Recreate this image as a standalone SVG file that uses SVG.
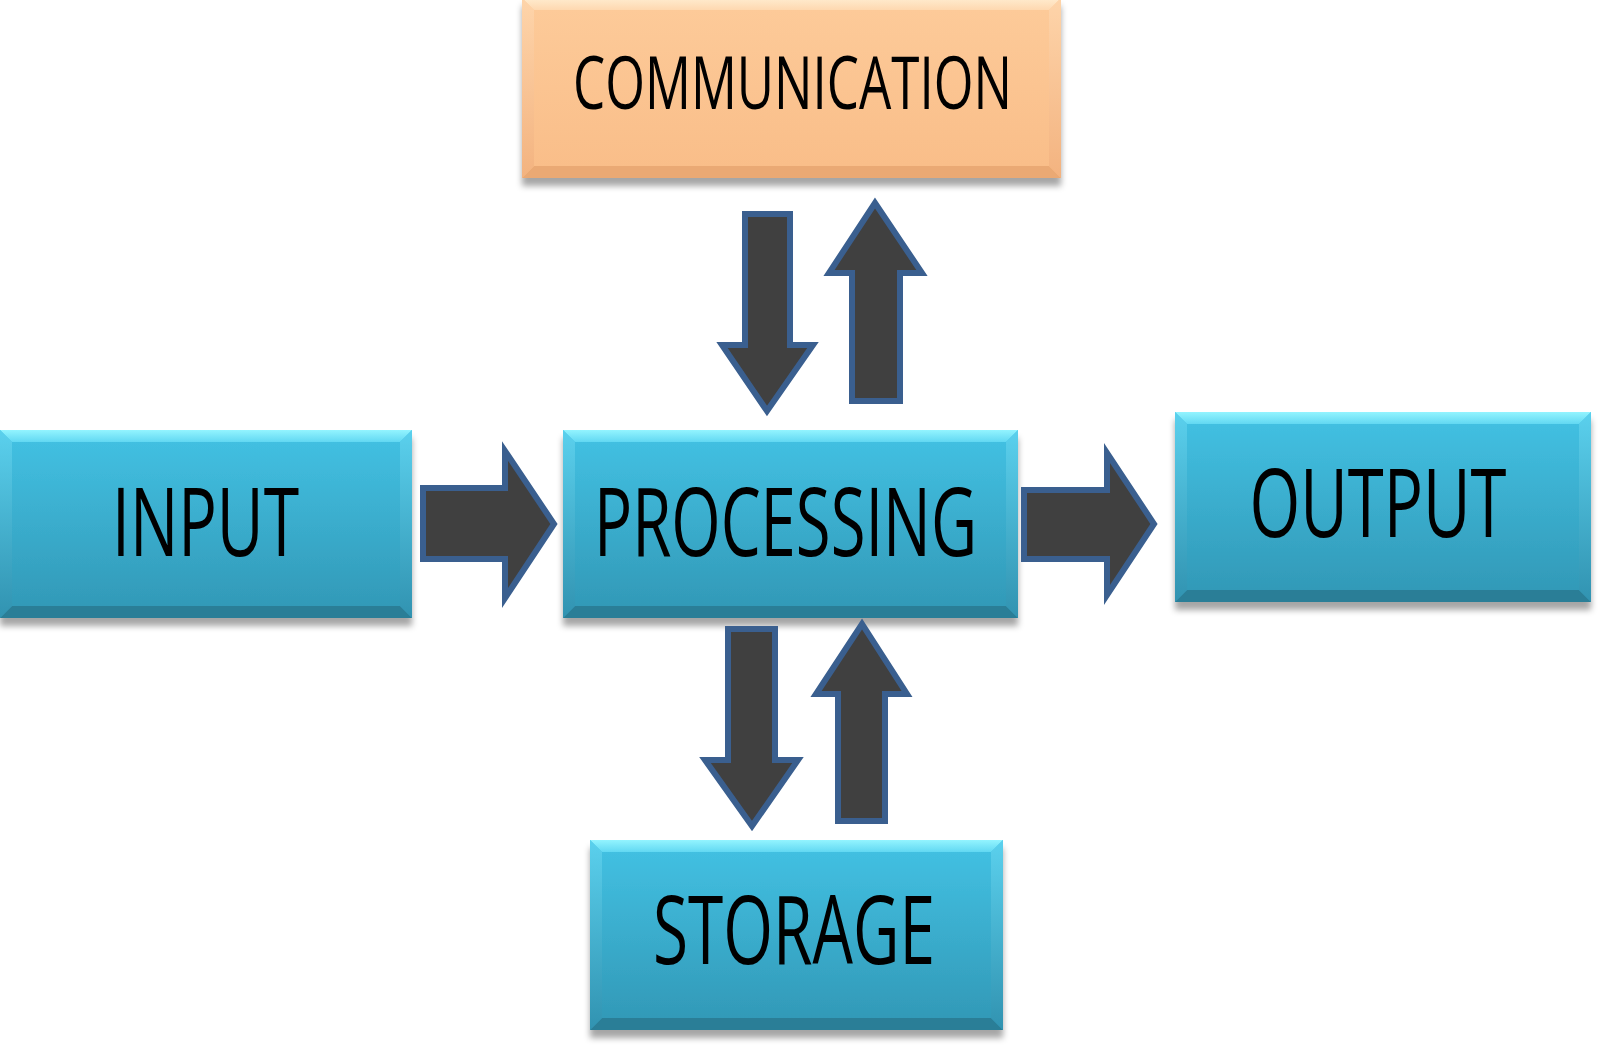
<svg xmlns="http://www.w3.org/2000/svg" width="1600" height="1064" viewBox="0 0 1600 1064">
  <defs>
    <linearGradient id="blueBody" x1="0" y1="0" x2="0" y2="1">
      <stop offset="0" stop-color="#43c2e4"/>
      <stop offset="1" stop-color="#3197b5"/>
    </linearGradient>
    <linearGradient id="blueTop" x1="0" y1="0" x2="0" y2="1">
      <stop offset="0" stop-color="#93f4ff"/>
      <stop offset="1" stop-color="#62d8f2"/>
    </linearGradient>
    <linearGradient id="blueSide" x1="0" y1="0" x2="0" y2="1">
      <stop offset="0" stop-color="#5fd3ef"/>
      <stop offset="1" stop-color="#3192b0"/>
    </linearGradient>
    <linearGradient id="peachBody" x1="0" y1="0" x2="0" y2="1">
      <stop offset="0" stop-color="#fdcb9a"/>
      <stop offset="1" stop-color="#f9bd88"/>
    </linearGradient>
    <linearGradient id="peachTop" x1="0" y1="0" x2="0" y2="1">
      <stop offset="0" stop-color="#ffeccf"/>
      <stop offset="1" stop-color="#fed8b0"/>
    </linearGradient>
    <linearGradient id="peachSide" x1="0" y1="0" x2="0" y2="1">
      <stop offset="0" stop-color="#fed6ad"/>
      <stop offset="1" stop-color="#f2b17e"/>
    </linearGradient>
    <filter id="shadow" x="-5%" y="-10%" width="110%" height="130%">
      <feDropShadow dx="0" dy="8" stdDeviation="3" flood-color="#000" flood-opacity="0.35"/>
    </filter>
  </defs>
  <style>
    .body-b { fill: url(#blueBody); }
    .top-b { fill: url(#blueTop); }
    .side-b { fill: url(#blueSide); opacity: 0.85; }
    .bot-b { fill: #2a7e97; }
    .body-p { fill: url(#peachBody); }
    .top-p { fill: url(#peachTop); }
    .side-p { fill: url(#peachSide); opacity: 0.85; }
    .bot-p { fill: #eaa974; }
    .label { font-family: "Open Sans", "Liberation Sans", sans-serif; font-weight: 400; fill: #000; text-anchor: middle; }
    .arrow { fill: #404040; stroke: #3a5f8f; stroke-width: 6; stroke-linejoin: miter; }
  </style>
  <rect width="1600" height="1064" fill="#ffffff"/>

  <g id="communication">
    <g filter="url(#shadow)">
      <rect x="522" y="-2" width="539" height="180" class="body-p"/>
    </g>
    <polygon class="top-p" points="522,-2 1061,-2 1049,10 534,10"/>
    <polygon class="bot-p" points="522,178 1061,178 1049,166 534,166"/>
    <polygon class="side-p" points="522,-2 534,10 534,166 522,178"/>
    <polygon class="side-p" points="1061,-2 1049,10 1049,166 1061,178"/>
    <text class="label" x="792.5" y="109" font-size="74" textLength="439" lengthAdjust="spacingAndGlyphs">COMMUNICATION</text>
  </g>

  <g id="input">
    <g filter="url(#shadow)">
      <rect x="0" y="430" width="412" height="188" class="body-b"/>
    </g>
    <polygon class="top-b" points="0,430 412,430 400,442 12,442"/>
    <polygon class="bot-b" points="0,618 412,618 400,606 12,606"/>
    <polygon class="side-b" points="0,430 12,442 12,606 0,618"/>
    <polygon class="side-b" points="412,430 400,442 400,606 412,618"/>
    <text class="label" x="205.5" y="556" font-size="96" textLength="187" lengthAdjust="spacingAndGlyphs">INPUT</text>
  </g>

  <g id="processing">
    <g filter="url(#shadow)">
      <rect x="563" y="430" width="455" height="188" class="body-b"/>
    </g>
    <polygon class="top-b" points="563,430 1018,430 1006,442 575,442"/>
    <polygon class="bot-b" points="563,618 1018,618 1006,606 575,606"/>
    <polygon class="side-b" points="563,430 575,442 575,606 563,618"/>
    <polygon class="side-b" points="1018,430 1006,442 1006,606 1018,618"/>
    <text class="label" x="785.5" y="556" font-size="96" textLength="383" lengthAdjust="spacingAndGlyphs">PROCESSING</text>
  </g>

  <g id="output">
    <g filter="url(#shadow)">
      <rect x="1175" y="412" width="416" height="190" class="body-b"/>
    </g>
    <polygon class="top-b" points="1175,412 1591,412 1579,424 1187,424"/>
    <polygon class="bot-b" points="1175,602 1591,602 1579,590 1187,590"/>
    <polygon class="side-b" points="1175,412 1187,424 1187,590 1175,602"/>
    <polygon class="side-b" points="1591,412 1579,424 1579,590 1591,602"/>
    <text class="label" x="1378" y="537" font-size="96" textLength="257" lengthAdjust="spacingAndGlyphs">OUTPUT</text>
  </g>

  <g id="storage">
    <g filter="url(#shadow)">
      <rect x="590" y="840" width="413" height="190" class="body-b"/>
    </g>
    <polygon class="top-b" points="590,840 1003,840 991,852 602,852"/>
    <polygon class="bot-b" points="590,1030 1003,1030 991,1018 602,1018"/>
    <polygon class="side-b" points="590,840 602,852 602,1018 590,1030"/>
    <polygon class="side-b" points="1003,840 991,852 991,1018 1003,1030"/>
    <text class="label" x="794" y="964" font-size="96" textLength="282" lengthAdjust="spacingAndGlyphs">STORAGE</text>
  </g>

  <g id="connectors">
    <path class="arrow" d="M423,488 H505 V451 L554,524 L505,598 V559 H423 Z"/>
    <path class="arrow" d="M1024,490 H1107 V453 L1154,524 L1107,595 V559 H1024 Z"/>
    <path class="arrow" d="M745,214 H790 V345 H813 L767,411 L722,345 H745 Z"/>
    <path class="arrow" d="M852,401 V273 H829 L875,203 L922,273 H900 V401 Z"/>
    <path class="arrow" d="M728,629 H775 V760 H798 L752,826 L705,760 H728 Z"/>
    <path class="arrow" d="M838,821 V694 H816 L862,624 L907,694 H885 V821 Z"/>
  </g>
</svg>
